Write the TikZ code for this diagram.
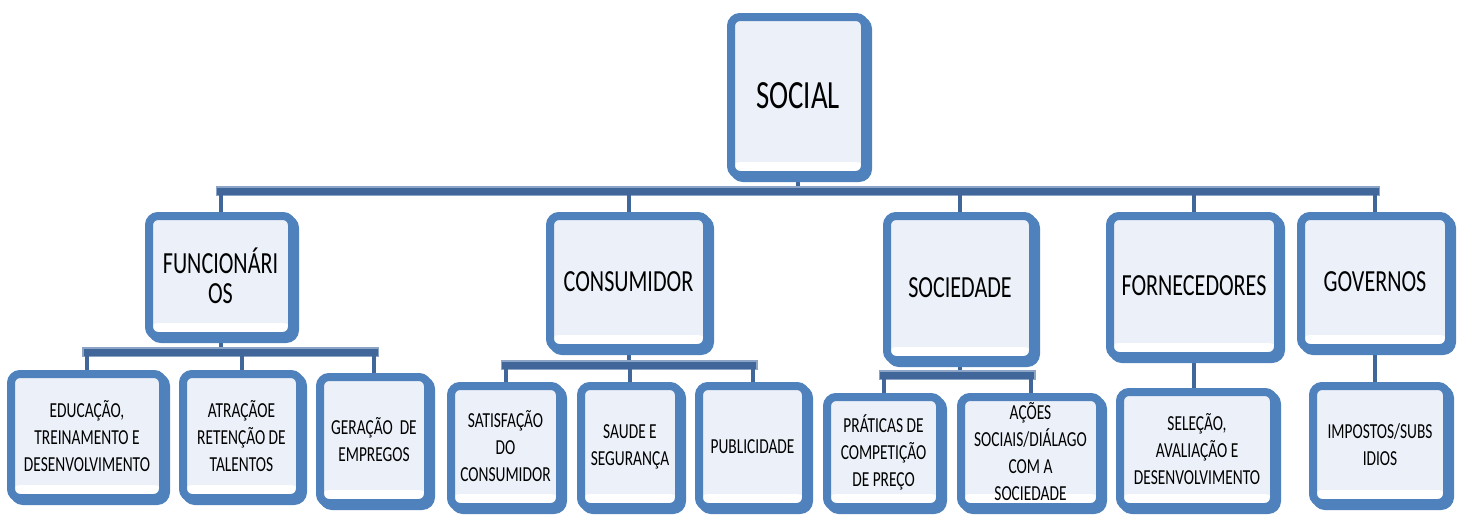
\documentclass[tikz,border=0pt]{standalone}
\usepackage{fontspec}
\setmainfont{Carlito}[FakeStretch=0.72]
\usepackage{tikz}
\usetikzlibrary{shadows, backgrounds, calc}
\definecolor{boxblue}{RGB}{79,129,189}
\definecolor{boxfill}{RGB}{236,241,249}
\definecolor{busdark}{RGB}{65,102,154}
\definecolor{buslight}{RGB}{140,164,198}
\tikzset{
    basebox/.style={rectangle, rounded corners=9pt, draw=boxblue, line width=8pt, fill=boxfill, align=center, inner sep=0pt,
        general shadow={draw=boxblue, fill=boxblue, line width=8pt, shadow xshift=3pt, shadow yshift=-3pt},
        path picture={\fill[white] ([yshift=13pt]path picture bounding box.south west) rectangle (path picture bounding box.south east);}},
    topbox/.style={basebox, font=\fontsize{40}{48}\selectfont},
    groupbox/.style={basebox, font=\fontsize{30.7}{30}\selectfont},
    itembox/.style={basebox, font=\fontsize{21.4}{27}\selectfont},
    bus/.style={draw=busdark, line width=7pt, line cap=rect, preaction={draw=buslight, line width=10pt, line cap=rect}},
    drop/.style={draw=busdark, line width=4pt}
}

\begin{document}
\begin{tikzpicture}[x=1pt, y=-1pt]
        \useasboundingbox (0,0) rectangle (1458,514);

        % Root
        \node (social) [topbox, minimum width=134pt, minimum height=158pt] at (798, 96) {SOCIAL};

        % Stakeholder groups
        \node (func) [groupbox, minimum width=143pt, minimum height=120pt] at (220.5, 276) {FUNCIONÁRI\\OS};
        \node (cons) [groupbox, minimum width=157pt, minimum height=132pt] at (628.5, 282) {CONSUMIDOR};
        \node (soc)  [groupbox, minimum width=146pt, minimum height=144pt] at (960, 288) {SOCIEDADE};
        \node (forn) [groupbox, minimum width=168pt, minimum height=140pt] at (1194, 286) {FORNECEDORES};
        \node (gov)  [groupbox, minimum width=148pt, minimum height=132pt] at (1375, 282) {GOVERNOS};

        % Items under each group
        \node (edu) [itembox, minimum width=152pt, minimum height=124pt] at (87, 436) {EDUCAÇÃO,\\TREINAMENTO E\\DESENVOLVIMENTO};
        \node (atr) [itembox, minimum width=117pt, minimum height=124pt] at (241.5, 436) {ATRAÇÃOE\\RETENÇÃO DE\\TALENTOS};
        \node (ger) [itembox, minimum width=108pt, minimum height=126pt] at (374, 440) {GERAÇÃO~ DE\\EMPREGOS};

        \node (sat) [itembox, minimum width=109pt, minimum height=121pt] at (505.5, 446.5) {SATISFAÇÃO\\DO\\CONSUMIDOR};
        \node (sau) [itembox, minimum width=98pt, minimum height=121pt] at (630, 446.5) {SAUDE E\\SEGURANÇA};
        \node (pub) [itembox, minimum width=107pt, minimum height=121pt] at (752.5, 446.5) {PUBLICIDADE};

        \node (pra) [itembox, minimum width=113pt, minimum height=110pt] at (883.5, 452) {PRÁTICAS DE\\COMPETIÇÃO\\DE PREÇO};
        \node (aco) [itembox, minimum width=139pt, minimum height=110pt] at (1030.5, 452) {AÇÕES\\SOCIAIS/DIÁLAGO\\COM A\\SOCIEDADE};

        \node (sel) [itembox, minimum width=154pt, minimum height=115pt] at (1197, 449.5) {SELEÇÃO,\\AVALIAÇÃO E\\DESENVOLVIMENTO};
        \node (imp) [itembox, minimum width=134pt, minimum height=117pt] at (1380, 444.5) {IMPOSTOS/SUBS\\IDIOS};

        % Connections
        \begin{scope}[on background layer]
            \fill[white] (0,0) rectangle (1458,514);

            \coordinate (topbus) at (0, 191);
            \draw[drop] (social.south) -- (social.south |- topbus);
            \draw[bus] (func.north |- topbus) -- (gov.north |- topbus);
            \foreach \g in {func, cons, soc, forn, gov}
                \draw[drop] (\g.north) -- (\g.north |- topbus);

            \coordinate (funcbus) at (0, 352);
            \draw[drop] (func.south) -- (func.south |- funcbus);
            \draw[bus] (edu.north |- funcbus) -- (ger.north |- funcbus);
            \foreach \i in {edu, atr, ger}
                \draw[drop] (\i.north) -- (\i.north |- funcbus);

            \coordinate (consbus) at (0, 365);
            \draw[drop] (cons.south) -- (cons.south |- consbus);
            \draw[bus] (sat.north |- consbus) -- (pub.north |- consbus);
            \foreach \i in {sat, sau, pub}
                \draw[drop] (\i.north) -- (\i.north |- consbus);

            \coordinate (socbus) at (0, 375);
            \draw[drop] (soc.south) -- (soc.south |- socbus);
            \draw[bus] (pra.north |- socbus) -- (aco.north |- socbus);
            \foreach \i in {pra, aco}
                \draw[drop] (\i.north) -- (\i.north |- socbus);

            \draw[drop] (forn.south) -- (forn.south |- sel.north);
            \draw[drop] (gov.south) -- (gov.south |- imp.north);
        \end{scope}
    \end{tikzpicture}
\end{document}
